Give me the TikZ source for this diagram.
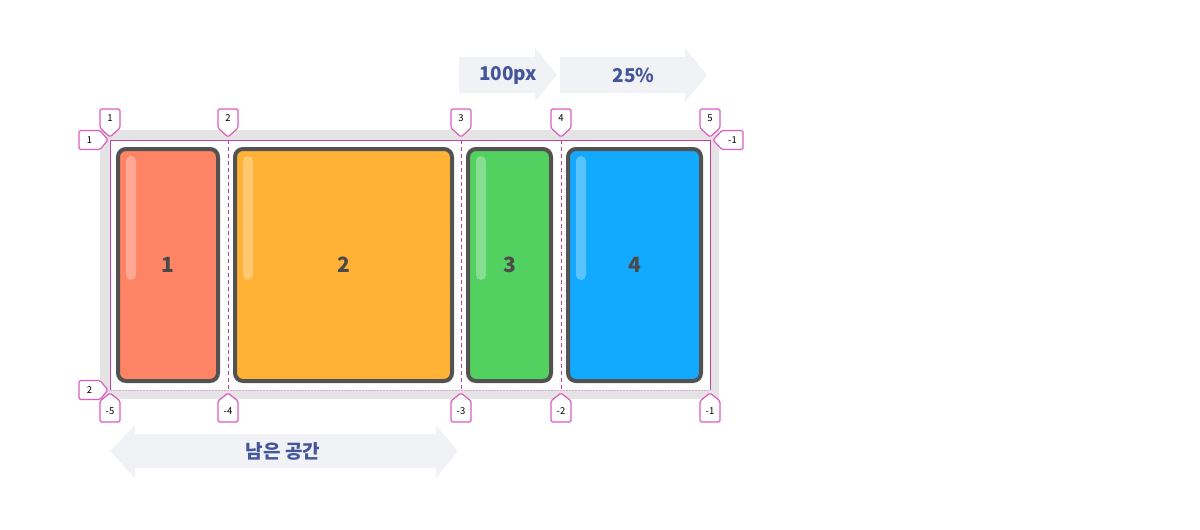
\documentclass[tikz,border=0pt]{standalone}
\usepackage{fontspec}
\setmainfont{Noto Sans CJK KR}
\definecolor{contgray}{HTML}{E4E4E4}
\definecolor{gridpink}{HTML}{C8409F}
\definecolor{tagpink}{HTML}{DD5CC0}
\definecolor{dotpink}{HTML}{E3A0D2}
\definecolor{itemborder}{HTML}{525252}
\definecolor{numcol}{HTML}{4A4A4A}
\definecolor{cA}{HTML}{FF8466}
\definecolor{cB}{HTML}{FFB236}
\definecolor{cC}{HTML}{52D160}
\definecolor{cD}{HTML}{12AAFF}
\definecolor{arrowfill}{HTML}{F0F2F6}
\definecolor{arrowtext}{HTML}{44559A}
\tikzset{
  item/.style={draw=itemborder, line width=4pt, rounded corners=8pt, inner sep=0pt,
    minimum height=232pt, font=\fontsize{21}{24}\selectfont\bfseries, text=numcol},
  hl/.style={fill=white, fill opacity=0.3, rounded corners=5pt},
  tagbox/.style={draw=tagpink, fill=white, line width=1.2pt, rounded corners=1.5pt, line join=round},
  tagtxt/.style={font=\fontsize{9.5}{11}\selectfont, text=black, inner sep=0pt},
  arr/.style={fill=arrowfill},
  arrtxt/.style={font=\fontsize{19}{22}\selectfont\bfseries, text=arrowtext, inner sep=0pt},
  gridline/.style={draw=gridpink, line width=0.9pt},
  griddash/.style={draw=gridpink, line width=0.8pt, dash pattern=on 4pt off 3pt},
}
% tag pointing down: name, x, tip y, text
\newcommand\mytagdown[4]{%
  \path[tagbox] (#2,#3) -- (#2+10,#3-9) -- (#2+10,#3-28) -- (#2-10,#3-28) -- (#2-10,#3-9) -- cycle;
  \node[tagtxt] (#1) at (#2,#3-18.5) {#4};}
% tag pointing up
\newcommand\mytagup[4]{%
  \path[tagbox] (#2,#3) -- (#2+10,#3+8) -- (#2+10,#3+29) -- (#2-10,#3+29) -- (#2-10,#3+8) -- cycle;
  \node[tagtxt] (#1) at (#2,#3+18.5) {#4};}
% tag pointing right: name, tip x, y, text
\newcommand\mytagright[4]{%
  \path[tagbox] (#2,#3) -- (#2-8,#3-9.5) -- (#2-29,#3-9.5) -- (#2-29,#3+9.5) -- (#2-8,#3+9.5) -- cycle;
  \node[tagtxt] (#1) at (#2-18.5,#3) {#4};}
% tag pointing left
\newcommand\mytagleft[4]{%
  \path[tagbox] (#2,#3) -- (#2+9,#3-9.5) -- (#2+30,#3-9.5) -- (#2+30,#3+9.5) -- (#2+9,#3+9.5) -- cycle;
  \node[tagtxt] (#1) at (#2+19.5,#3) {#4};}
\begin{document}
\begin{tikzpicture}[x=1pt, y=-1pt]
\useasboundingbox (0,0) rectangle (1200,530);
% container and grid area
\node[fill=contgray, minimum width=619pt, minimum height=269pt, inner sep=0pt, anchor=north west] (container) at (100,130) {};
\node[fill=white, minimum width=600pt, minimum height=250pt, inner sep=0pt, anchor=north west] (grid) at (110,140) {};
% grid lines
\coordinate (t1) at (110,140); \coordinate (t2) at (228,140); \coordinate (t3) at (461,140);
\coordinate (t4) at (561,140); \coordinate (t5) at (710,140);
\coordinate (b1) at (110,390); \coordinate (b2) at (228,390); \coordinate (b3) at (461,390);
\coordinate (b4) at (561,390); \coordinate (b5) at (710,390);
\draw[dotpink, line width=0.9pt, dash pattern=on 1.5pt off 1.5pt] (b1) -- (b5);
\draw[griddash] (t2) -- (b2);
\draw[griddash] (t3) -- (b3);
\draw[griddash] (t4) -- (b4);
\draw[gridline] (b1) -- (t1) -- (t5) -- (b5);
% items
\node[item, fill=cA, minimum width=100pt] (i1) at (168,265) {1};
\node[item, fill=cB, minimum width=217pt] (i2) at (343.5,265) {2};
\node[item, fill=cC, minimum width=83pt] (i3) at (509.5,265) {3};
\node[item, fill=cD, minimum width=133pt] (i4) at (634.5,265) {4};
\fill[hl] (126,156) rectangle (136,280);
\fill[hl] (243,156) rectangle (253,280);
\fill[hl] (476,156) rectangle (486,280);
\fill[hl] (576,156) rectangle (586,280);
% tags top
\mytagdown{c1}{110}{137}{1}
\mytagdown{c2}{228}{137}{2}
\mytagdown{c3}{461}{137}{3}
\mytagdown{c4}{561}{137}{4}
\mytagdown{c5}{710}{137}{5}
% tags bottom
\mytagup{n5}{110}{393}{-5}
\mytagup{n4}{228}{393}{-4}
\mytagup{n3}{461}{393}{-3}
\mytagup{n2}{561}{393}{-2}
\mytagup{n1}{710}{393}{-1}
% tags left / right
\mytagright{r1}{108}{140}{1}
\mytagright{r2}{108}{390}{2}
\mytagleft{rm1}{713}{140}{-1}
% top arrows
\fill[arr] (459,57) -- (535,57) -- (535,48) -- (557,75) -- (535,102) -- (535,93) -- (459,93) -- cycle;
\node[arrtxt] (a100) at (508,75) {100px};
\fill[arr] (560,57) -- (685,57) -- (685,48) -- (707,75) -- (685,102) -- (685,93) -- (560,93) -- cycle;
\node[arrtxt] (a25) at (633.5,75) {25\%};
% bottom double arrow
\fill[arr] (110,451) -- (135,425) -- (135,434) -- (436,434) -- (436,425) -- (458,451) -- (436,478) -- (436,468) -- (135,468) -- (135,478) -- cycle;
\node[arrtxt] (free) at (283,451) {남은 공간};
\end{tikzpicture}
\end{document}
